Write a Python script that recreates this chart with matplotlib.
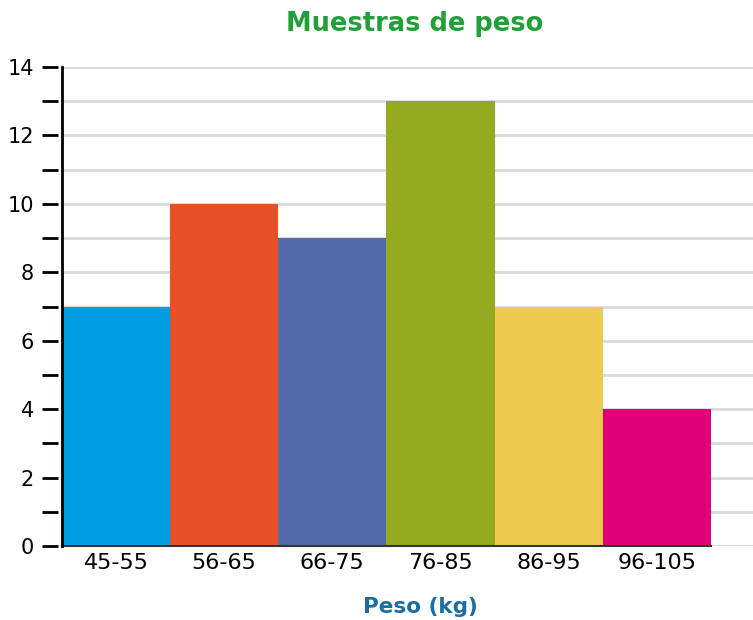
import matplotlib
matplotlib.use("Agg")
import matplotlib.pyplot as plt

# data
categories = ["45-55", "56-65", "66-75", "76-85", "86-95", "96-105"]
counts = [7, 10, 9, 13, 7, 4]
bar_colors = ["#009ee0", "#e6512a", "#536aab", "#95aa20", "#eec94f", "#e2007a"]
major_ticks = [0, 2, 4, 6, 8, 10, 12, 14]
minor_ticks = [1, 3, 5, 7, 9, 11, 13]

plt.rcParams['font.family'] = ['DejaVu Sans']

fig = plt.figure(figsize=(7.53, 6.2), dpi=100)
ax_w_px = 691
ax = fig.add_axes([62 / 753, 74 / 620, ax_w_px / 753, 479 / 620])

x = list(range(len(categories)))
ax.bar(x, counts, width=1.0, color=bar_colors, zorder=3)

# light gridlines every unit, running to the right edge
for v in range(0, 15):
    ax.axhline(v, color="#d9d9d9", lw=2, zorder=1)

ax.set_xlim(-0.5, 5.89)
ax.set_ylim(0, 14)

# dark baseline under the bars only
ax.plot([-0.5, len(categories) - 0.5], [0, 0], color="#333333", lw=1.5, zorder=4, clip_on=False)

for s in ["top", "right", "bottom"]:
    ax.spines[s].set_visible(False)
ax.spines["left"].set_linewidth(2)
ax.spines["left"].set_zorder(5)

# tick dashes sit a little away from the axis line
ytr = ax.get_yaxis_transform()
for v in major_ticks + minor_ticks:
    ax.plot([-20 / ax_w_px, -4 / ax_w_px], [v, v], color="black", lw=2,
            transform=ytr, clip_on=False, solid_capstyle="butt")

ax.set_yticks(major_ticks)
ax.tick_params(axis="y", which="both", length=0, labelsize=15, pad=20)
ax.set_xticks(x)
ax.set_xticklabels(categories)
ax.tick_params(axis="x", length=0, labelsize=16, pad=5)

fig.text(0.551, 0.961, "Muestras de peso", color="#22a038", fontsize=18.5,
         fontweight="bold", ha="center", va="center")
fig.text(0.559, 0.021, "Peso (kg)", color="#1a6fa0", fontsize=15.5,
         fontweight="bold", ha="center", va="center")

fig.savefig("out.png", dpi=100)
